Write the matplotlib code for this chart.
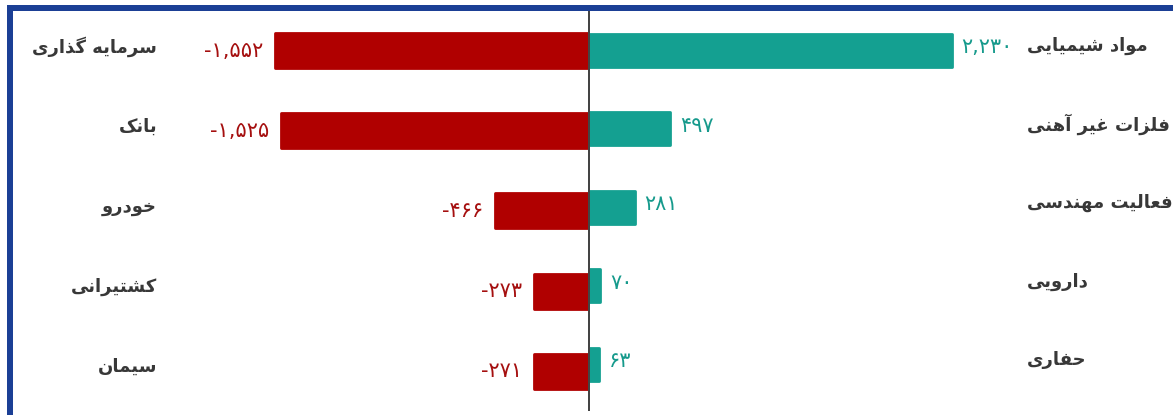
import matplotlib
matplotlib.use("Agg")
import matplotlib.pyplot as plt
from matplotlib import font_manager
from matplotlib.font_manager import FontProperties
from matplotlib.patches import Rectangle
from matplotlib.transforms import blended_transform_factory

# ---------------- data ----------------
neg_labels = ["سرمایه گذاری", "بانک", "خودرو", "کشتیرانی", "سیمان"]
neg_values = [-1552, -1525, -466, -273, -271]
pos_labels = ["مواد شیمیایی", "فلزات غیر آهنی", "فعالیت مهندسی", "دارویی", "حفاری"]
pos_values = [2230, 497, 281, 70, 63]

# ---------------- minimal Persian shaping ----------------
FORMS = {
    "\u0622": ("\uFE81", "\uFE82", None, None),
    "\u0627": ("\uFE8D", "\uFE8E", None, None),
    "\u0628": ("\uFE8F", "\uFE90", "\uFE91", "\uFE92"),
    "\u062A": ("\uFE95", "\uFE96", "\uFE97", "\uFE98"),
    "\u062D": ("\uFEA1", "\uFEA2", "\uFEA3", "\uFEA4"),
    "\u062E": ("\uFEA5", "\uFEA6", "\uFEA7", "\uFEA8"),
    "\u062F": ("\uFEA9", "\uFEAA", None, None),
    "\u0630": ("\uFEAB", "\uFEAC", None, None),
    "\u0631": ("\uFEAD", "\uFEAE", None, None),
    "\u0632": ("\uFEAF", "\uFEB0", None, None),
    "\u0633": ("\uFEB1", "\uFEB2", "\uFEB3", "\uFEB4"),
    "\u0634": ("\uFEB5", "\uFEB6", "\uFEB7", "\uFEB8"),
    "\u0639": ("\uFEC9", "\uFECA", "\uFECB", "\uFECC"),
    "\u063A": ("\uFECD", "\uFECE", "\uFECF", "\uFED0"),
    "\u0641": ("\uFED1", "\uFED2", "\uFED3", "\uFED4"),
    "\u0644": ("\uFEDD", "\uFEDE", "\uFEDF", "\uFEE0"),
    "\u0645": ("\uFEE1", "\uFEE2", "\uFEE3", "\uFEE4"),
    "\u0646": ("\uFEE5", "\uFEE6", "\uFEE7", "\uFEE8"),
    "\u0647": ("\uFEE9", "\uFEEA", "\uFEEB", "\uFEEC"),
    "\u0648": ("\uFEED", "\uFEEE", None, None),
    "\u06A9": ("\uFB8E", "\uFB8F", "\uFB90", "\uFB91"),
    "\u06AF": ("\uFB92", "\uFB93", "\uFB94", "\uFB95"),
    "\u06CC": ("\uFBFC", "\uFBFD", "\uFBFE", "\uFBFF"),
}
FALLBACK = {
    "\uFB8E": "\uFED9", "\uFB8F": "\uFEDA", "\uFB90": "\uFEDB", "\uFB91": "\uFEDC",
    "\uFB92": "\uFED9", "\uFB93": "\uFEDA", "\uFB94": "\uFEDB", "\uFB95": "\uFEDC",
    "\uFBFC": "\uFEEF", "\uFBFD": "\uFEF0", "\uFBFE": "\uFEF3", "\uFBFF": "\uFEF4",
}


def font_cmap(weight):
    try:
        from fontTools.ttLib import TTFont
        path = font_manager.findfont(FontProperties(family="DejaVu Sans", weight=weight))
        return set(TTFont(path).getBestCmap().keys())
    except Exception:
        return None


def shape(text, cmap):
    text = text.replace("\u064A", "\u06CC").replace("\u0643", "\u06A9")
    out = []
    n = len(text)
    for i, ch in enumerate(text):
        if ch not in FORMS:
            out.append(ch)
            continue
        prev = text[i - 1] if i > 0 else None
        nxt = text[i + 1] if i < n - 1 else None
        jp = prev in FORMS and FORMS[prev][2] is not None
        dual = FORMS[ch][2] is not None
        jn = dual and nxt in FORMS
        iso, fin, ini, med = FORMS[ch]
        if jp and jn:
            g = med
        elif jp:
            g = fin
        elif jn:
            g = ini
        else:
            g = iso
        if cmap is not None and ord(g) not in cmap:
            g = FALLBACK.get(g, ch)
        out.append(g)
    return "".join(reversed(out))


PERSIAN_DIGITS = "۰۱۲۳۴۵۶۷۸۹"


def fa_number(v, cmap):
    s = f"{abs(v):,}"
    digits = PERSIAN_DIGITS
    if cmap is not None and any(ord(d) not in cmap for d in digits):
        digits = "٠١٢٣٤٥٦٧٨٩"
    s = "".join(digits[int(c)] if c.isdigit() else c for c in s)
    return ("-" if v < 0 else "") + s


cmap_reg = font_cmap("normal")
cmap_bold = font_cmap("bold")

needed = set()
for lab in neg_labels + pos_labels:
    needed |= {ord(c) for c in shape(lab, None) if c != " "}
label_weight = "normal"
label_cmap = cmap_reg
if cmap_bold is not None and needed <= cmap_bold:
    label_weight = "bold"
    label_cmap = cmap_bold

# ---------------- figure ----------------
W, H = 1173, 415
DPI = 100
fig = plt.figure(figsize=(W / DPI, H / DPI), dpi=DPI)
fig.patch.set_facecolor("white")

zero_px = 589
left_scale = 0.2021   # px per unit (left panel)
right_scale = 0.1626  # px per unit (right panel)

axL = fig.add_axes([0, 0, zero_px / W, 1])
axR = fig.add_axes([zero_px / W, 0, (W - zero_px) / W, 1])
for ax in (axL, axR):
    ax.set_axis_off()
    ax.patch.set_alpha(0)

axL.set_xlim(-zero_px / left_scale, 0)
axR.set_xlim(0, (W - zero_px) / right_scale)

L0, LS, LH = 51, 80.0, 35
R0, RS, RH = 50, 78.5, 33
axL.set_ylim((H - L0) / LS, -L0 / LS)
axR.set_ylim((H - R0) / RS, -R0 / RS)

red = "#b00000"
red_text = "#a50f0f"
teal = "#14a091"
teal_text = "#169a8c"
label_color = "#383838"

yL = list(range(len(neg_values)))
yR = list(range(len(pos_values)))
axL.barh(yL, neg_values, height=LH / LS, color=red, edgecolor=red,
         linewidth=2.0, joinstyle="round")
axR.barh(yR, pos_values, height=RH / RS, color=teal, edgecolor=teal,
         linewidth=2.0, joinstyle="round")

pt = 72.0 / DPI  # points per pixel

for i, v in zip(yL, neg_values):
    axL.annotate(fa_number(v, cmap_reg), xy=(v, i), xytext=(-12 * pt, 0),
                 textcoords="offset points", ha="right", va="center",
                 color=red_text, fontsize=15, family="DejaVu Sans")
for i, v in zip(yR, pos_values):
    axR.annotate(fa_number(v, cmap_reg), xy=(v, i), xytext=(10 * pt, 3 * pt),
                 textcoords="offset points", ha="left", va="center",
                 color=teal_text, fontsize=15, family="DejaVu Sans")

trL = blended_transform_factory(fig.transFigure, axL.transData)
trR = blended_transform_factory(fig.transFigure, axR.transData)
for i, lab in zip(yL, neg_labels):
    axL.annotate(shape(lab, label_cmap), xy=(157 / W, i), xycoords=trL,
                 xytext=(0, 4 * pt), textcoords="offset points",
                 ha="right", va="center", color=label_color, fontsize=13,
                 family="DejaVu Sans", weight=label_weight)
for i, lab in zip(yR, pos_labels):
    axR.annotate(shape(lab, label_cmap), xy=(1027 / W, i), xycoords=trR,
                 xytext=(0, 4 * pt), textcoords="offset points",
                 ha="left", va="center", color=label_color, fontsize=13,
                 family="DejaVu Sans", weight=label_weight)

axR.axvline(0, ymin=5 / H, ymax=(H - 11) / H, color="#444444", lw=2 * pt,
            clip_on=False, zorder=5)

blue = "#1b3f95"
fig.add_artist(Rectangle((7 / W, 0), 6 / W, (H - 5) / H, transform=fig.transFigure,
                         facecolor=blue, edgecolor="none"))
fig.add_artist(Rectangle((7 / W, (H - 11) / H), (W - 7) / W, 6 / H,
                         transform=fig.transFigure, facecolor=blue, edgecolor="none"))

fig.savefig("out.png", dpi=DPI, facecolor="white")
